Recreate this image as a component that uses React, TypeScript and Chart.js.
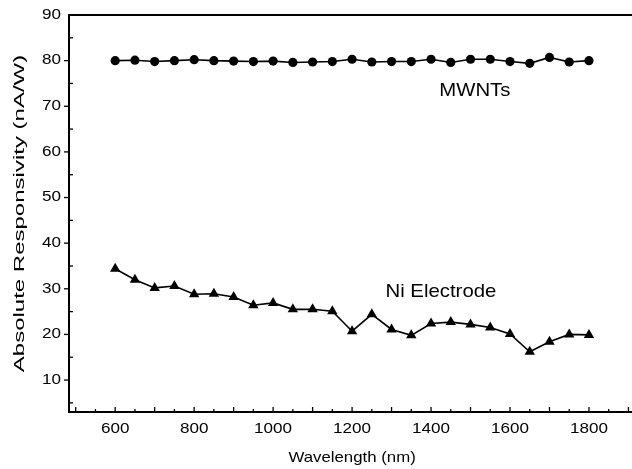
import React, { useEffect, useRef } from "react";
import { Chart, registerables } from "chart.js";

Chart.register(...registerables);

const wavelengths = [600, 650, 700, 750, 800, 850, 900, 950, 1000, 1050, 1100, 1150, 1200, 1250, 1300, 1350, 1400, 1450, 1500, 1550, 1600, 1650, 1700, 1750, 1800];
const mwnts = [80.0, 80.1, 79.8, 80.0, 80.2, 80.0, 79.9, 79.8, 79.9, 79.6, 79.7, 79.8, 80.3, 79.7, 79.8, 79.8, 80.3, 79.6, 80.3, 80.3, 79.8, 79.4, 80.7, 79.7, 80.0];
const niElectrode = [34.4, 32.0, 30.2, 30.6, 28.8, 28.9, 28.2, 26.4, 26.9, 25.5, 25.5, 25.1, 20.7, 24.4, 21.1, 19.8, 22.4, 22.7, 22.2, 21.5, 20.1, 16.2, 18.4, 20.0, 19.9];
const xTickValues = [600, 800, 1000, 1200, 1400, 1600, 1800];
const yTickValues = [10, 20, 30, 40, 50, 60, 70, 80, 90];
const xMinorValues = [500, 550, 600, 650, 700, 750, 800, 850, 900, 950, 1000, 1050, 1100, 1150, 1200, 1250, 1300, 1350, 1400, 1450, 1500, 1550, 1600, 1650, 1700, 1750, 1800, 1850, 1900];
const yMinorValues = [5, 10, 15, 20, 25, 30, 35, 40, 45, 50, 55, 60, 65, 70, 75, 80, 85, 90];
const seriesLabels = [
  { text: "MWNTs", x: 1511, y: 73.3 },
  { text: "Ni Electrode", x: 1425, y: 29.3 },
];
const xTitle = "Wavelength (nm)";
const yTitle = "Absolute Responsivity (nA/W)";

const FONT = "Arial, 'Liberation Sans', sans-serif";

function drawText(ctx: CanvasRenderingContext2D, text: string, x: number, y: number, size: number, stretch: number, align: CanvasTextAlign, rotate = false) {
  ctx.save();
  ctx.translate(x, y);
  if (rotate) ctx.rotate(-Math.PI / 2);
  ctx.scale(stretch, 1);
  ctx.font = `${size}px ${FONT}`;
  ctx.textAlign = align;
  ctx.textBaseline = "middle";
  ctx.fillStyle = "#000";
  ctx.fillText(text, 0, 0);
  ctx.restore();
}

const framePlugin = {
  id: "frame",
  afterDraw(chart: any) {
    const { ctx, chartArea, scales } = chart;
    const xs = scales.x;
    const ys = scales.y;
    ctx.save();
    ctx.strokeStyle = "#000";
    ctx.lineWidth = 2;
    ctx.beginPath();
    ctx.moveTo(chartArea.left - 1, chartArea.top);
    ctx.lineTo(chartArea.right, chartArea.top);
    ctx.stroke();
    ctx.lineWidth = 1.3;
    xMinorValues.forEach((v) => {
      const px = xs.getPixelForValue(v);
      if (px < chartArea.left + 2 || px > chartArea.right) return;
      const len = v % 100 === 0 ? 5 : 3;
      ctx.beginPath();
      ctx.moveTo(px, chartArea.bottom);
      ctx.lineTo(px, chartArea.bottom - len);
      ctx.stroke();
    });
    yMinorValues.forEach((v) => {
      const py = ys.getPixelForValue(v);
      if (py < chartArea.top + 2 || py > chartArea.bottom - 2) return;
      ctx.beginPath();
      if (v % 10 === 0) {
        ctx.moveTo(chartArea.left, py);
        ctx.lineTo(chartArea.left - 5, py);
      } else {
        ctx.moveTo(chartArea.left, py);
        ctx.lineTo(chartArea.left + 4, py);
      }
      ctx.stroke();
    });
    yTickValues.forEach((v) => {
      drawText(ctx, String(v), chartArea.left - 8, ys.getPixelForValue(v), 14, 1.22, "right");
    });
    xTickValues.forEach((v) => {
      drawText(ctx, String(v), xs.getPixelForValue(v), chartArea.bottom + 17, 14, 1.22, "center");
    });
    drawText(ctx, xTitle, xs.getPixelForValue(1200), chartArea.bottom + 46, 15, 1.12, "center");
    drawText(ctx, yTitle, 20, ys.getPixelForValue(46.5), 15, 1.6, "center", true);
    seriesLabels.forEach((l) => {
      drawText(ctx, l.text, xs.getPixelForValue(l.x), ys.getPixelForValue(l.y), 18.5, 1.1, "center");
    });
    ctx.restore();
  },
};

export default function App() {
  const ref = useRef<HTMLCanvasElement>(null);
  useEffect(() => {
    if (!ref.current) return;
    const chart = new Chart(ref.current, {
      type: "line",
      data: {
        datasets: [
          {
            label: "MWNTs",
            data: wavelengths.map((w, i) => ({ x: w, y: mwnts[i] })),
            borderColor: "#000",
            backgroundColor: "#000",
            borderWidth: 1.6,
            pointStyle: "circle",
            pointRadius: 4.6,
            pointBorderWidth: 0,
          },
          {
            label: "Ni Electrode",
            data: wavelengths.map((w, i) => ({ x: w, y: niElectrode[i] })),
            borderColor: "#000",
            backgroundColor: "#000",
            borderWidth: 1.6,
            pointStyle: "triangle",
            pointRadius: 6,
            pointBorderWidth: 0,
          },
        ],
      },
      options: {
        responsive: false,
        animation: false,
        layout: { autoPadding: false, padding: { top: 15, right: 0, left: 0, bottom: 0 } },
        plugins: { legend: { display: false }, tooltip: { enabled: false } },
        scales: {
          x: {
            type: "linear",
            min: 483,
            max: 1909,
            afterBuildTicks: (s: any) => {
              s.ticks = xTickValues.map((v) => ({ value: v }));
            },
            afterFit: (s: any) => {
              s.height = 57;
            },
            grid: { drawOnChartArea: false, drawTicks: false },
            border: { display: true, color: "#000", width: 2 },
            ticks: { display: false },
            title: { display: false },
          },
          y: {
            type: "linear",
            min: 3,
            max: 90,
            afterBuildTicks: (s: any) => {
              s.ticks = yTickValues.map((v) => ({ value: v }));
            },
            afterFit: (s: any) => {
              s.width = 69;
            },
            grid: { drawOnChartArea: false, drawTicks: false },
            border: { display: true, color: "#000", width: 2 },
            ticks: { display: false },
            title: { display: false },
          },
        },
      },
      plugins: [framePlugin],
    });
    return () => chart.destroy();
  }, []);
  return (
    <div style={{ position: "fixed", left: 0, top: 0, width: 632, height: 469, background: "#fff" }}>
      <canvas ref={ref} width={632} height={469} />
    </div>
  );
}
